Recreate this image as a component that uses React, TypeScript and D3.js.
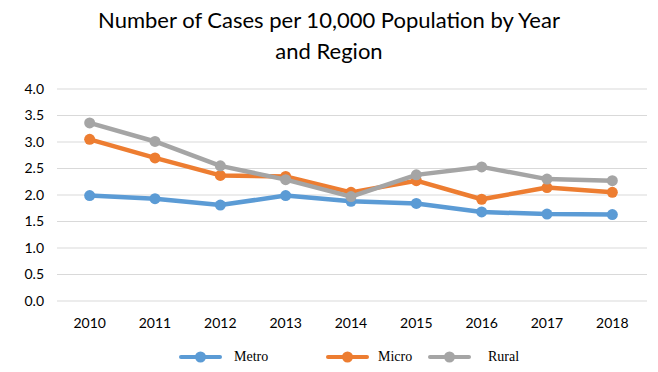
import React, { useEffect, useRef } from 'react';
import * as d3 from 'd3';

const years = ['2010', '2011', '2012', '2013', '2014', '2015', '2016', '2017', '2018'];
const metro = [1.99, 1.93, 1.81, 1.99, 1.88, 1.84, 1.68, 1.64, 1.63];
const micro = [3.05, 2.70, 2.37, 2.35, 2.05, 2.27, 1.92, 2.14, 2.05];
const rural = [3.36, 3.01, 2.55, 2.29, 1.97, 2.38, 2.53, 2.30, 2.27];
const yTicks = [0, 0.5, 1, 1.5, 2, 2.5, 3, 3.5, 4];

const seriesNames = ['Metro', 'Micro', 'Rural'];
const seriesColors = ['#5B9BD5', '#ED7D31', '#A5A5A5'];

export default function App() {
  const ref = useRef<SVGSVGElement>(null);

  useEffect(() => {
    document.body.style.margin = '0';
    const svg = d3.select(ref.current);
    svg.selectAll('*').remove();

    const width = 658, height = 372;
    const margin = { top: 89, right: 13, bottom: 71, left: 57 };

    const x = d3.scaleBand().domain(years).range([margin.left, width - margin.right]);
    const y = d3.scaleLinear().domain([0, 4]).range([height - margin.bottom, margin.top]);

    svg.append('rect').attr('width', width).attr('height', height).attr('fill', '#fff');

    // title
    const title = svg.append('text')
      .attr('text-anchor', 'middle')
      .attr('font-family', 'Lato, "Open Sans", sans-serif')
      .attr('font-size', 22)
      .attr('fill', '#000');
    title.append('tspan').attr('x', 329).attr('y', 28).text('Number of Cases per 10,000 Population by Year');
    title.append('tspan').attr('x', 329).attr('y', 59).text('and Region');

    // grid
    svg.append('g').selectAll('line').data(yTicks).enter().append('line')
      .attr('x1', margin.left).attr('x2', width - margin.right + 2)
      .attr('y1', d => y(d)).attr('y2', d => y(d))
      .attr('stroke', '#D9D9D9').attr('stroke-width', 1);

    // y axis labels
    svg.append('g').selectAll('text').data(yTicks).enter().append('text')
      .attr('x', 44).attr('y', d => y(d)).attr('dy', '0.35em')
      .attr('text-anchor', 'end')
      .attr('font-family', 'Lato, sans-serif').attr('font-size', 14)
      .text(d => d3.format('.1f')(d));

    // x axis labels
    svg.append('g').selectAll('text').data(years).enter().append('text')
      .attr('x', d => x(d)! + x.bandwidth() / 2).attr('y', 328)
      .attr('text-anchor', 'middle')
      .attr('font-family', 'Lato, sans-serif').attr('font-size', 14)
      .text(d => d);

    const data = [metro, micro, rural];
    const line = d3.line<number>()
      .x((d, i) => x(years[i])! + x.bandwidth() / 2)
      .y(d => y(d));

    data.forEach((vals, s) => {
      const g = svg.append('g');
      g.append('path').datum(vals)
        .attr('d', line)
        .attr('fill', 'none')
        .attr('stroke', seriesColors[s])
        .attr('stroke-width', 4.5)
        .attr('stroke-linejoin', 'round');
      g.selectAll('circle').data(vals).enter().append('circle')
        .attr('cx', (d, i) => x(years[i])! + x.bandwidth() / 2)
        .attr('cy', d => y(d))
        .attr('r', 5.5)
        .attr('fill', seriesColors[s]);
    });

    // legend
    const legendX = [181, 328, 430];
    const legendTextX = [234, 378, 488];
    const ly = 357;
    seriesNames.forEach((name, s) => {
      const g = svg.append('g');
      g.append('line')
        .attr('x1', legendX[s]).attr('x2', legendX[s] + 39)
        .attr('y1', ly).attr('y2', ly)
        .attr('stroke', seriesColors[s]).attr('stroke-width', 4)
        .attr('stroke-linecap', 'round');
      g.append('circle')
        .attr('cx', legendX[s] + 19.5).attr('cy', ly).attr('r', 5.5)
        .attr('fill', seriesColors[s]);
      g.append('text')
        .attr('x', legendTextX[s]).attr('y', ly).attr('dy', '0.3em')
        .attr('font-family', '"Liberation Serif", "DejaVu Serif", serif')
        .attr('font-size', 14)
        .text(name);
    });
  }, []);

  return <svg ref={ref} width={658} height={372} style={{ display: 'block' }} />;
}
